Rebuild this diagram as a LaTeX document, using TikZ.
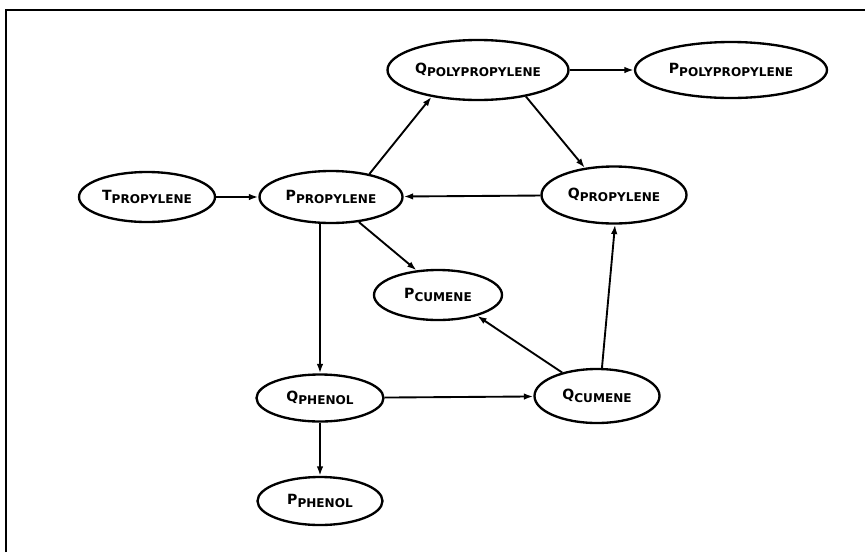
\documentclass[tikz,border=0pt]{standalone}
\usepackage{fontspec}
\usepackage{tikz}
\usetikzlibrary{shapes.geometric,arrows.meta}
\newfontfamily\letterfont{DejaVu Sans}

\newcommand{\varlbl}[2]{{\fontsize{12}{14}\selectfont #1}\raisebox{-0.5ex}{\fontsize{10.3}{12}\selectfont #2}}

\begin{document}
\begin{tikzpicture}[x=0.03cm, y=-0.03cm,
        state/.style={draw, ellipse, line width=2pt, inner sep=0pt, font=\letterfont\bfseries},
        wh/.style 2 args={minimum width=#1*0.03cm, minimum height=#2*0.03cm},
        flow/.style={-{Latex[length=8pt,width=5.5pt]}, line width=1.6pt}]
        \useasboundingbox (0,0) rectangle (865,552);
        % Frame
        \draw[line width=2pt] (6,552) -- (6,10) -- (865,10);

        % Nodes
        \node[state, wh={136}{50}] (tprop) at (147,197) {\varlbl{T}{PROPYLENE}};
        \node[state, wh={143}{52}] (pprop) at (331,197) {\varlbl{P}{PROPYLENE}};
        \node[state, wh={181}{60}] (qpoly) at (478,70) {\varlbl{Q}{POLYPROPYLENE}};
        \node[state, wh={192}{56}] (ppoly) at (731,70) {\varlbl{P}{POLYPROPYLENE}};
        \node[state, wh={145}{57}] (qprop) at (614,195) {\varlbl{Q}{PROPYLENE}};
        \node[state, wh={128}{50}] (pcumene) at (438,295) {\varlbl{P}{CUMENE}};
        \node[state, wh={127}{47}] (qphenol) at (320,398) {\varlbl{Q}{PHENOL}};
        \node[state, wh={125}{54}] (qcumene) at (597,396) {\varlbl{Q}{CUMENE}};
        \node[state, wh={125}{48}] (pphenol) at (320,501) {\varlbl{P}{PHENOL}};

        % Arrows
        \draw[flow] (tprop) -- (pprop);
        \draw[flow] (pprop.31) -- (qpoly.210);
        \draw[flow] (qpoly) -- (ppoly);
        \draw[flow] (qpoly.331) -- (qprop.137);
        \draw[flow] (qprop) -- (pprop);
        \draw[flow] (pprop.318) -- (pcumene.131);
        \draw[flow] (qphenol.north |- pprop.south) -- (qphenol);
        \draw[flow] (qphenol) -- (qcumene);
        \draw[flow] (qcumene.146) -- (pcumene.332);
        \draw[flow] (qcumene.80) -- (qprop.272);
        \draw[flow] (qphenol) -- (pphenol);
\end{tikzpicture}
\end{document}
